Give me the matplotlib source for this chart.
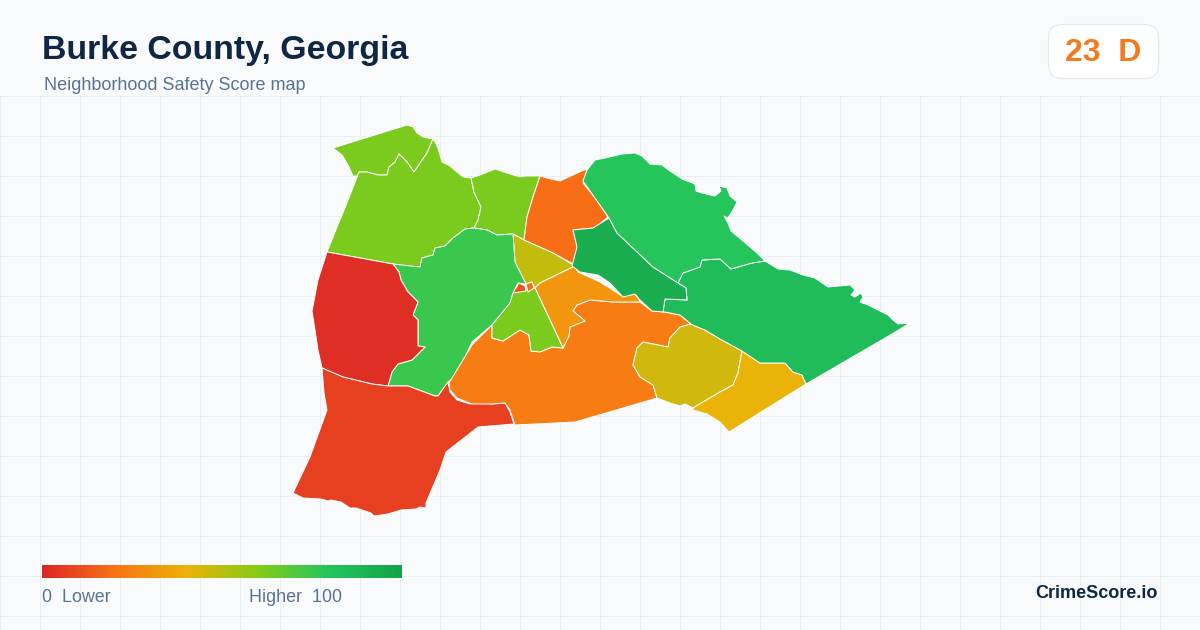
import numpy as np
from matplotlib import pyplot as plt
from matplotlib.colors import LinearSegmentedColormap
from matplotlib.patches import FancyBboxPatch, Polygon

plt.rcParams['font.family'] = ['Liberation Sans', 'DejaVu Sans']

#textos
title = 'Burke County, Georgia'
subtitle = 'Neighborhood Safety Score map'
score_label = '23  D'
brand = 'CrimeScore.io'
legend_low = '0  Lower'
legend_high = 'Higher  100'

#escala de colores
score_stops = [0, 20, 40, 60, 80, 100]
stop_colors = ['#dc2626', '#f97316', '#eab308', '#84cc16', '#22c55e', '#16a34a']

#puntaje de cada zona
tract_scores = [62, 62, 62, 19, 48, 75, 2, 7, 23, 45, 40, 31, 62, 12, 19, 85, 93, 79]

#contornos de cada zona
tract_a = [(333,148),(407,125),(413,127),(417,133),(423,137),(433,139),(427,153),(414,172),(407,162),(399,154),
           (395,162),(389,167),(387,175),(378,175),(367,172),(359,172),(357,176),(353,176),(348,165),(342,155)]
tract_b = [(359,172),(367,172),(378,175),(387,175),(389,167),(395,162),(399,154),(407,162),(414,172),(427,153),
           (433,139),(435,142),(438,148),(442,162),(450,166),(457,172),(463,177),(471,178),(474,192),(481,207),
           (478,220),(474,228),(465,229),(453,238),(445,246),(435,248),(433,255),(422,258),(420,267),(412,267),
           (393,264),(327,252),(337,227),(347,203)]
tract_c = [(471,178),(480,175),(495,169),(507,173),(520,177),(525,176),(540,176),(533,197),(527,217),(524,240),
           (513,234),(497,235),(487,230),(474,228),(478,220),(481,207),(474,192)]
tract_d = [(540,176),(547,178),(560,181),(573,175),(586,169),(587,175),(583,183),(597,200),(608,217),(595,228),
           (573,230),(578,248),(575,265),(553,253),(535,245),(524,240),(527,217),(533,197)]
tract_e = [(513,234),(524,240),(535,245),(553,253),(575,266),(540,283),(535,288),(532,282),(526,284),(515,262)]
tract_f = [(393,264),(420,267),(422,258),(433,255),(435,248),(445,246),(453,238),(465,229),(474,228),(487,230),
           (497,235),(513,234),(515,262),(526,284),(518,283),(513,293),(510,303),(492,325),(472,342),(457,375),
           (448,382),(438,396),(435,396),(408,386),(388,386),(392,372),(398,364),(412,360),(425,347),(418,346),
           (418,320),(413,315),(418,302),(408,292),(401,280),(399,272)]
tract_g = [(327,252),(393,264),(399,272),(401,280),(408,292),(418,302),(413,315),(418,320),(418,346),(425,347),
           (412,360),(398,364),(392,372),(388,386),(372,384),(343,377),(322,368),(318,350),(315,330),(312,311),
           (318,280)]
tract_h = [(322,368),(343,377),(372,384),(388,386),(408,386),(435,396),(438,396),(448,382),(450,392),(457,400),
           (470,404),(477,402),(492,404),(505,403),(510,412),(514,424),(478,427),(446,452),(440,470),(426,503),
           (426,508),(420,507),(416,509),(401,510),(388,514),(374,516),(371,513),(356,508),(350,508),(341,502),
           (331,500),(328,501),(321,499),(303,498),(293,493),(310,457),(327,410),(324,393)]
tract_i = [(449,383),(472,345),(492,325),(492,338),(503,341),(520,330),(529,335),(531,351),(540,352),(552,347),
           (563,348),(569,336),(570,327),(585,321),(573,311),(577,305),(590,300),(613,302),(640,302),(652,311),
           (665,312),(680,315),(691,324),(680,327),(670,338),(668,347),(643,342),(637,348),(633,365),(640,377),
           (653,385),(657,398),(575,422),(515,425),(510,410),(505,403),(492,404),(472,404),(457,398),(450,390)]
tract_j = [(680,327),(691,324),(695,326),(705,330),(720,339),(742,351),(738,373),(733,385),(720,392),(693,408),
           (685,404),(680,406),(670,403),(657,398),(653,385),(640,377),(633,365),(637,348),(643,342),(668,347),
           (670,338)]
tract_k = [(742,351),(760,363),(785,363),(793,372),(802,375),(806,384),(729,432),(720,422),(707,414),(693,410),
           (693,408),(720,392),(733,385),(738,373)]
tract_l = [(575,266),(578,272),(600,282),(622,296),(635,294),(640,301),(640,302),(613,302),(590,300),(577,305),
           (573,311),(585,321),(570,327),(569,336),(563,348),(535,288),(540,283)]
tract_m = [(492,325),(510,303),(513,293),(527,290),(535,288),(563,348),(552,347),(540,352),(531,351),(529,335),
           (520,330),(503,341),(492,338)]
tract_n = [(513,293),(519,283),(525,286),(526,291)]
tract_o = [(526,284),(532,282),(534,288),(528,292)]
tract_p = [(678,283),(683,273),(700,267),(702,260),(720,259),(731,269),(752,263),(765,261),(778,269),(790,270),
           (803,275),(815,278),(828,287),(850,285),(855,290),(851,295),(855,297),(861,293),(863,297),(860,302),
           (868,305),(878,310),(888,315),(893,320),(898,324),(910,323),(892,334),(806,384),(802,375),(793,372),
           (785,363),(760,363),(742,351),(720,339),(705,330),(695,326),(691,324),(680,315),(665,312),(663,312),
           (665,299),(687,300),(686,288)]
tract_q = [(609,218),(617,233),(653,267),(678,283),(686,288),(687,300),(665,299),(663,312),(652,311),(640,300),
           (635,294),(623,297),(610,283),(598,275),(580,272),(572,266),(577,247),(573,230),(593,228)]
tract_r = [(609,218),(583,181),(587,170),(595,160),(605,158),(622,154),(635,153),(642,156),(650,164),(662,165),
           (670,171),(682,179),(695,184),(696,191),(702,193),(715,196),(721,191),(719,186),(727,188),(730,196),
           (737,202),(733,210),(728,218),(724,216),(728,223),(731,231),(743,241),(757,253),(765,261),(752,263),
           (731,269),(720,259),(702,260),(700,267),(683,273),(678,283),(653,267),(617,233)]
tracts = [tract_a, tract_b, tract_c, tract_d, tract_e, tract_f, tract_g, tract_h, tract_i,
          tract_j, tract_k, tract_l, tract_m, tract_n, tract_o, tract_p, tract_q, tract_r]

#formato
cmap = LinearSegmentedColormap.from_list('safety', [(s/100, c) for s, c in zip(score_stops, stop_colors)])
fig = plt.figure(figsize=(12, 6.3), dpi=100, facecolor='#f8fafc')
ax = fig.add_axes([0, 0, 1, 1])
ax.set_xlim(0, 1200)
ax.set_ylim(630, 0)
ax.axis('off')

#reticula
for x in np.arange(0, 1200, 40):
    ax.plot([x+0.5, x+0.5], [96, 630], color='#e8eff3', lw=0.72, zorder=1, snap=False)
for y in np.arange(96, 630, 40):
    ax.plot([0, 1200], [y+0.5, y+0.5], color='#e8eff3', lw=0.72, zorder=1, snap=False)

#mapa
for pts, s in zip(tracts, tract_scores):
    ax.add_patch(Polygon(pts, closed=True, facecolor=cmap(s/100), edgecolor='white', lw=0.7,
            joinstyle='round', zorder=2))

#encabezado
ax.text(42, 50.5, title, fontsize=24.4, fontweight='bold', color='#0f2744', va='center', ha='left', zorder=5)
ax.text(44, 86, subtitle, fontsize=12.95, color='#5b7393', va='center', ha='left', zorder=5)

#recuadro de puntaje
ax.add_patch(FancyBboxPatch((1048.5+14, 24.5+14), 110-28, 54-28, boxstyle='round,pad=14,rounding_size=14',
        facecolor='white', edgecolor='#e2e8f0', lw=0.8, zorder=4))
ax.text(1103, 53, score_label, fontsize=23, fontweight='bold', color='#f47a1c', va='center', ha='center', zorder=5)

#leyenda
grad = np.linspace(0, 1, 360).reshape(1, -1)
ax.imshow(grad, cmap=cmap, extent=(42, 402, 578, 565), aspect='auto', zorder=4)
ax.set_xlim(0, 1200)
ax.set_ylim(630, 0)
ax.text(42, 598, legend_low, fontsize=12.85, color='#5b7393', va='center', ha='left', zorder=5)
ax.text(249, 598, legend_high, fontsize=12.85, color='#5b7393', va='center', ha='left', zorder=5)
ax.text(1158, 594, brand, fontsize=13, fontweight='bold', color='#0f2744', va='center', ha='right', zorder=5)

plt.savefig('out.png', dpi=100, facecolor=fig.get_facecolor())
